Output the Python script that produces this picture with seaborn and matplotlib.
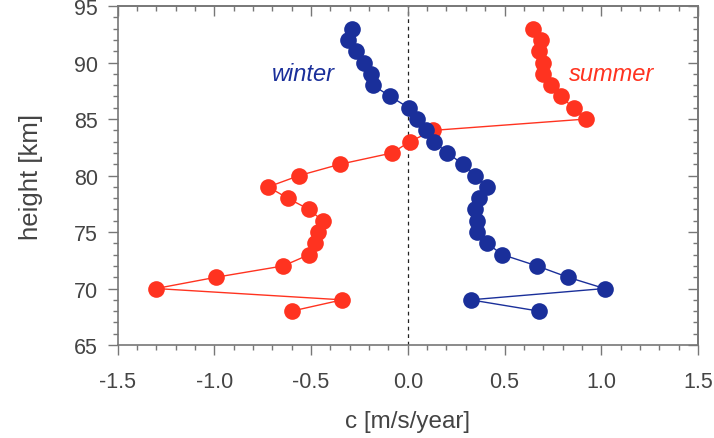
import numpy as np
import pandas as pd
import matplotlib
matplotlib.use("Agg")
import matplotlib.pyplot as plt
import seaborn as sns
from matplotlib.ticker import MultipleLocator

# heights (km), one value per km from top to bottom
heights = [93, 92, 91, 90, 89, 88, 87, 86, 85, 84, 83, 82, 81,
           80, 79, 78, 77, 76, 75, 74, 73, 72, 71, 70, 69, 68]

winter = [-0.29, -0.31, -0.27, -0.225, -0.19, -0.18, -0.09, 0.005, 0.048,
          0.096, 0.136, 0.205, 0.286, 0.35, 0.41, 0.367, 0.346, 0.358,
          0.358, 0.41, 0.489, 0.668, 0.828, 1.017, 0.325, 0.678]

summer = [0.647, 0.69, 0.678, 0.699, 0.699, 0.738, 0.79, 0.857, 0.919,
          0.131, 0.01, -0.081, -0.351, -0.561, -0.721, -0.621, -0.51,
          -0.44, -0.463, -0.48, -0.51, -0.644, -0.991, -1.301, -0.339, -0.60]

df = pd.concat([
    pd.DataFrame({"c": winter, "height": heights, "season": "winter"}),
    pd.DataFrame({"c": summer, "height": heights, "season": "summer"}),
], ignore_index=True)

sns.set_style("ticks")
plt.rcParams["font.family"] = ["Liberation Sans", "DejaVu Sans"]

blue = "#1a2f9a"
red = "#ff3320"
grey = "#444444"
spine_col = "#777777"

fig = plt.figure(figsize=(7.14, 4.39), dpi=100)
ax = fig.add_axes([0.1646, 0.2118, 0.813, 0.772])

for season, col in [("summer", red), ("winter", blue)]:
    sns.lineplot(data=df[df["season"] == season], x="c", y="height",
                 sort=False, estimator=None, color=col, lw=1.0,
                 marker="o", markersize=12, markeredgewidth=0,
                 ax=ax)

ax.axvline(0, color="#222222", ls=(0, (3, 3)), lw=0.9, zorder=0)

ax.set_xlim(-1.5, 1.5)
ax.set_ylim(65, 95)
ax.xaxis.set_major_locator(MultipleLocator(0.5))
ax.xaxis.set_minor_locator(MultipleLocator(0.1))
ax.yaxis.set_major_locator(MultipleLocator(5))
ax.yaxis.set_minor_locator(MultipleLocator(1))
ax.xaxis.set_major_formatter(matplotlib.ticker.FormatStrFormatter("%.1f"))

ax.tick_params(which="both", direction="out", colors=spine_col,
               labelcolor=grey, labelsize=15.5)
ax.tick_params(which="major", length=7, width=1)
ax.tick_params(which="minor", length=3.5, width=1)
ax.tick_params(axis="x", which="major", pad=12)
ax.tick_params(axis="y", which="major", pad=7)

# mirrored ticks on top and right pointing inwards
top = ax.secondary_xaxis("top")
top.xaxis.set_major_locator(MultipleLocator(0.5))
top.xaxis.set_minor_locator(MultipleLocator(0.1))
top.tick_params(which="both", direction="in", colors=spine_col, labeltop=False)
top.tick_params(which="major", length=7, width=1)
top.tick_params(which="minor", length=3.5, width=1)
right = ax.secondary_yaxis("right")
right.yaxis.set_major_locator(MultipleLocator(5))
right.yaxis.set_minor_locator(MultipleLocator(1))
right.tick_params(which="both", direction="in", colors=spine_col, labelright=False)
right.tick_params(which="major", length=7, width=1)
right.tick_params(which="minor", length=3.5, width=1)
for a in (top, right):
    for s in a.spines.values():
        s.set_color(spine_col)
        s.set_linewidth(1.2)

for s in ax.spines.values():
    s.set_color(spine_col)
    s.set_linewidth(1.2)

ax.set_xlabel("c [m/s/year]", fontsize=17.5, color=grey, labelpad=13)
ax.set_ylabel("height [km]", fontsize=18.5, color=grey, labelpad=22)

ax.text(-0.705, 89, "winter", color=blue, fontsize=17, style="italic",
        va="center", ha="left")
ax.text(0.835, 89, "summer", color=red, fontsize=17, style="italic",
        va="center", ha="left")

fig.savefig("out.png", dpi=100)
